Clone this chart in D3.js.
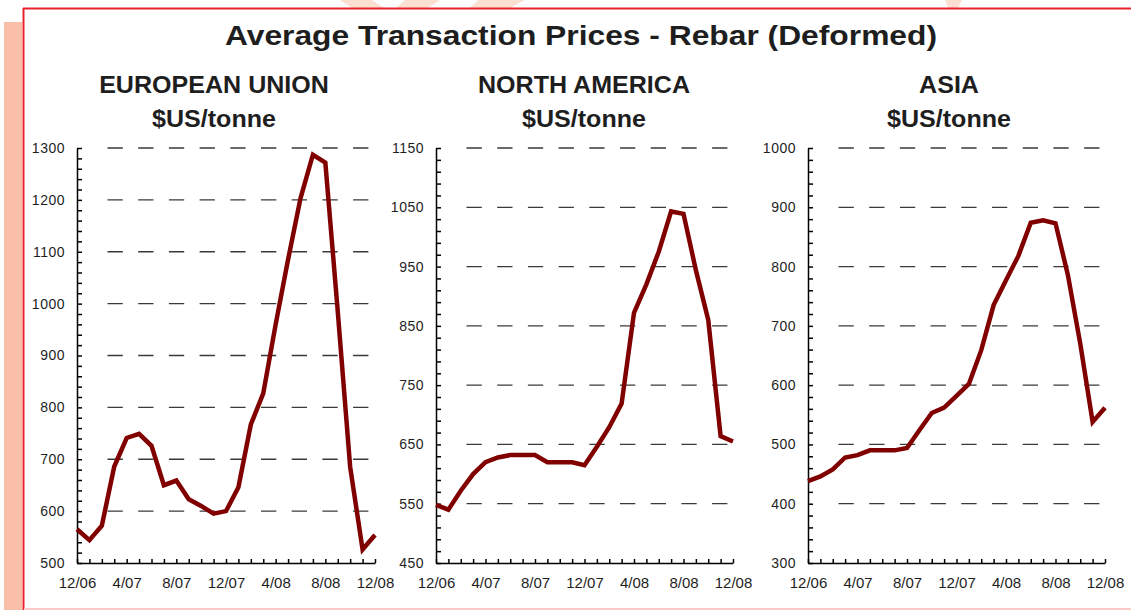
<!DOCTYPE html>
<html>
<head>
<meta charset="utf-8">
<script src="https://cdn.jsdelivr.net/npm/d3@7"></script>
<style>
  body { margin: 0; background: #fff; }
  svg { display: block; font-family: "Liberation Sans", Arial, sans-serif; }
</style>
</head>
<body>
<svg id="chart" width="1131" height="610"></svg>
<script>
// 월별 라벨 (12/06 ~ 12/08, 25개)
const months = ["12/06","1/07","2/07","3/07","4/07","5/07","6/07","7/07","8/07","9/07","10/07","11/07",
  "12/07","1/08","2/08","3/08","4/08","5/08","6/08","7/08","8/08","9/08","10/08","11/08","12/08"];
const monthLabels = ["12/06","4/07","8/07","12/07","4/08","8/08","12/08"];

// 지역별 가격 ($US/tonne)
const euPrices = [565, 544, 572, 686, 741, 749, 726, 650, 659, 623, 610, 595, 600, 646, 767, 827,
  960, 1085, 1203, 1287, 1272, 985, 685, 526, 554];
const naPrices = [548, 540, 572, 600, 620, 628, 632, 632, 632, 620, 620, 620, 615, 646, 679, 719,
  872, 920, 975, 1043, 1039, 944, 860, 664, 655];
const asiaPrices = [438, 446, 458, 478, 482, 490, 490, 490, 494, 524, 553, 562, 582, 602, 659, 735,
  777, 818, 874, 878, 873, 786, 670, 538, 562];

// y축 눈금
const euTicks = [500, 600, 700, 800, 900, 1000, 1100, 1200, 1300];
const naTicks = [450, 550, 650, 750, 850, 950, 1050, 1150];
const asiaTicks = [300, 400, 500, 600, 700, 800, 900, 1000];

const panels = [
  { name: "EUROPEAN UNION", data: euPrices, ticks: euTicks, x0: 77, x1: 375, titleX: 214 },
  { name: "NORTH AMERICA", data: naPrices, ticks: naTicks, x0: 436, x1: 733, titleX: 584 },
  { name: "ASIA", data: asiaPrices, ticks: asiaTicks, x0: 808, x1: 1105, titleX: 949 }
];

const svg = d3.select("#chart");
const plotTop = 148, plotBottom = 563;

// 배경 장식
svg.append("rect").attr("x", 4).attr("y", 22).attr("width", 18).attr("height", 600).attr("fill", "#f9bfa8");
[[[340, 0], [372, 0], [384, 8], [352, 8]], [[405, 0], [440, 0], [428, 8], [396, 8]],
 [[478, 0], [525, 0], [510, 8], [470, 8]], [[945, 0], [962, 0], [958, 8], [948, 8]]].forEach(p => {
  svg.append("polygon").attr("points", p.join(" ")).attr("fill", "#fde0d2");
});
svg.append("rect").attr("x", 23).attr("y", 8).attr("width", 1120).attr("height", 600)
  .attr("fill", "#fff");
svg.append("line").attr("x1", 23).attr("x2", 1131).attr("y1", 8.5).attr("y2", 8.5)
  .attr("stroke", "#e8222c").attr("stroke-width", 2);
svg.append("line").attr("x1", 23.5).attr("x2", 23.5).attr("y1", 8).attr("y2", 610)
  .attr("stroke", "#e8222c").attr("stroke-width", 2);
svg.append("line").attr("x1", 24).attr("x2", 1131).attr("y1", 609).attr("y2", 609)
  .attr("stroke", "#f8caca").attr("stroke-width", 2);

// 제목
svg.append("text")
  .text("Average Transaction Prices - Rebar (Deformed)")
  .attr("transform", "translate(581,45) scale(1.135,1)")
  .attr("text-anchor", "middle")
  .attr("font-size", "28px").attr("font-weight", "bold")
  .attr("fill", "#1e1e1e");

panels.forEach(p => {
  const x = d3.scalePoint().domain(months).range([p.x0, p.x1]);
  const lo = p.ticks[0], hi = p.ticks[p.ticks.length - 1];
  const y = d3.scaleLinear().domain([lo, hi]).range([plotBottom, plotTop]);
  const g = svg.append("g");

  // 부제목
  [[p.name, 93], ["$US/tonne", 127]].forEach(t => {
    g.append("text").text(t[0])
      .attr("transform", `translate(${p.titleX},${t[1]}) scale(1.09,1)`)
      .attr("text-anchor", "middle")
      .attr("font-size", "23px").attr("font-weight", "bold")
      .attr("fill", "#1e1e1e");
  });

  // 점선 격자
  g.selectAll(".grid").data(p.ticks.slice(1)).join("line")
    .attr("x1", p.x0 + 30.5).attr("x2", p.x0 + 291.5)
    .attr("y1", d => y(d)).attr("y2", d => y(d))
    .attr("stroke", "#3a3a3a").attr("stroke-width", 1.3)
    .attr("stroke-dasharray", "15.3,15.4");

  // y축
  const minor = d3.range(lo, hi + 1, 20);
  const yAxis = d3.axisLeft(y).tickValues(minor).tickSize(-5).tickSizeOuter(0).tickPadding(12)
    .tickFormat(d => (d - lo) % 100 === 0 ? d : "");
  g.append("g").attr("transform", `translate(${p.x0},0)`).call(yAxis)
    .call(a => a.selectAll("text").attr("font-size", "14px").attr("fill", "#1e1e1e")
      .attr("letter-spacing", "0.5px").attr("font-family", "Liberation Sans, Arial, sans-serif"))
    .call(a => a.selectAll("line, path").attr("stroke", "#000").attr("stroke-width", 1.5));

  // x축
  const xAxis = d3.axisBottom(x).tickSize(-4).tickSizeOuter(0).tickPadding(14)
    .tickFormat(d => monthLabels.includes(d) ? d : "");
  g.append("g").attr("transform", `translate(0,${plotBottom})`).call(xAxis)
    .call(a => a.selectAll("text").attr("font-size", "15px").attr("fill", "#1e1e1e")
      .attr("font-family", "Liberation Sans, Arial, sans-serif"))
    .call(a => a.selectAll("line, path").attr("stroke", "#000").attr("stroke-width", 1.5));

  // 가격 선
  const line = d3.line().x((d, i) => x(months[i])).y(d => y(d));
  g.append("path").datum(p.data)
    .attr("d", line)
    .attr("fill", "none")
    .attr("stroke", "#800000")
    .attr("stroke-width", 4.5);
});
</script>
</body>
</html>
